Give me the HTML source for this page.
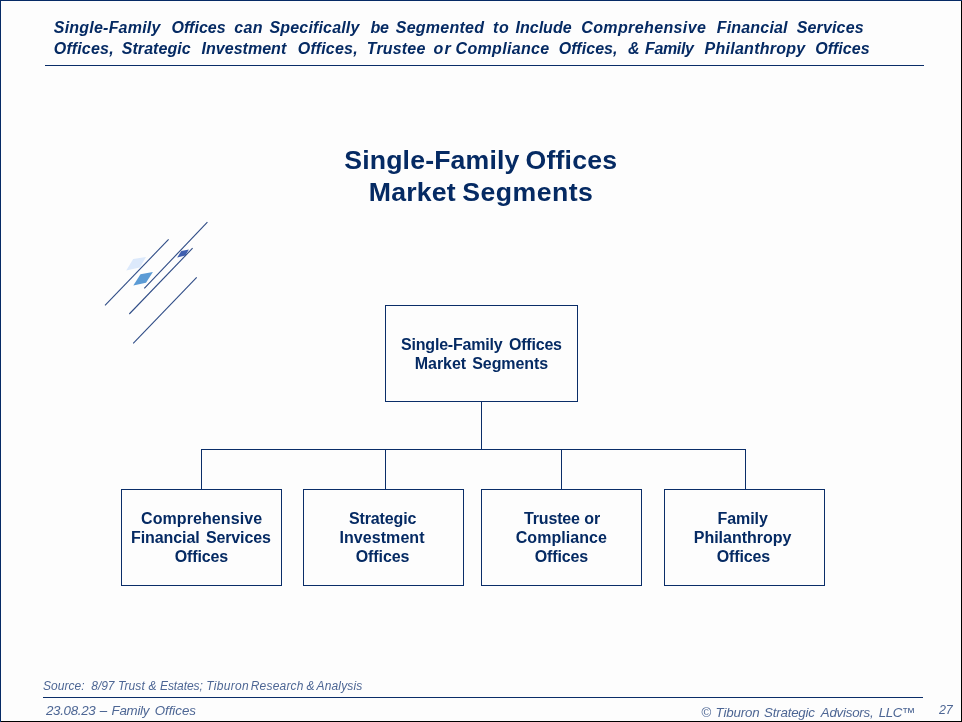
<!DOCTYPE html>
<html lang="en">
<head>
<meta charset="utf-8">
<title>Single-Family Offices Market Segments</title>
<style>
html,body{margin:0;padding:0;}
body{width:962px;height:722px;overflow:hidden;background:#fdfdfd;font-family:"Liberation Sans",Arial,Helvetica,sans-serif;color:#052a63;position:relative;}
#page{position:absolute;left:0;top:0;width:962px;height:722px;will-change:transform;}
#frame{position:absolute;left:0;top:0;width:962px;height:722px;box-sizing:border-box;border-left:1px solid #062a66;border-top:1px solid #062a66;border-right:1px solid #000;border-bottom:1px solid #000;}
.ln{position:absolute;left:0;width:962px;white-space:nowrap;margin:0;}
.ln span{position:absolute;top:0;}
.hd{height:20px;font-weight:bold;font-style:italic;font-size:16px;line-height:20px;}
.tt{height:32px;font-weight:bold;font-size:26.67px;line-height:32px;}
.bx{height:19px;font-weight:bold;font-size:16px;line-height:19px;}
.sr{height:14px;font-style:italic;font-size:12px;line-height:14px;color:#4d6694;}
.fl{height:16px;font-style:italic;font-size:13.33px;line-height:16px;color:#4d6694;}
.pn{height:14px;font-style:italic;font-size:12.5px;line-height:14px;color:#4d6694;}
.fr{height:16px;font-style:italic;font-size:13.33px;line-height:16px;color:#4d6694;}
.hr{position:absolute;background:#0a2d68;height:1px;}
.box{position:absolute;box-sizing:border-box;border:1px solid #0a2d68;}
.cn{position:absolute;background:#0a2d68;}
.px{position:absolute;width:1px;height:1px;background:#0c3a7a;}
#logo{position:absolute;left:95px;top:215px;}
</style>
</head>
<body>
<div id="page">
<div id="frame"></div>
<div class="px" style="left:961px;top:0;"></div>
<div class="px" style="left:0;top:721px;"></div>

<div class="ln hd" style="top:18px;"><span style="left:53.75px;letter-spacing:0.22px;">Single-Family</span> <span style="left:171.5px;letter-spacing:0.03px;">Offices</span> <span style="left:234.25px;letter-spacing:0.35px;">can</span> <span style="left:269.5px;letter-spacing:0.16px;">Specifically</span> <span style="left:370.5px;letter-spacing:-0.2px;">be</span> <span style="left:395.75px;letter-spacing:0.24px;">Segmented</span> <span style="left:493px;letter-spacing:0.55px;">to</span> <span style="left:515.5px;letter-spacing:0.01px;">Include</span> <span style="left:581.25px;letter-spacing:0.38px;">Comprehensive</span> <span style="left:716.75px;letter-spacing:0.18px;">Financial</span> <span style="left:796.75px;letter-spacing:0.14px;">Services</span></div>
<div class="ln hd" style="top:39px;"><span style="left:53.75px;letter-spacing:0.21px;">Offices,</span> <span style="left:121.75px;letter-spacing:0.06px;">Strategic</span> <span style="left:201.5px;letter-spacing:0.03px;">Investment</span> <span style="left:297.75px;letter-spacing:0.21px;">Offices,</span> <span style="left:366.75px;letter-spacing:0.18px;">Trustee</span> <span style="left:433.5px;letter-spacing:1.15px;">or</span> <span style="left:455.5px;letter-spacing:0.34px;">Compliance</span> <span style="left:558.75px;letter-spacing:0.05px;">Offices,</span> <span style="left:628px;">&amp;</span> <span style="left:645px;letter-spacing:-0.36px;">Family</span> <span style="left:704.5px;letter-spacing:0.27px;">Philanthropy</span> <span style="left:815.25px;letter-spacing:0.08px;">Offices</span></div>
<div class="hr" style="left:45px;top:65px;width:879px;"></div>

<div class="ln tt" style="top:144.25px;"><span style="left:344.25px;letter-spacing:0.15px;">Single-Family</span> <span style="left:525.5px;letter-spacing:0.19px;">Offices</span></div>
<div class="ln tt" style="top:176px;"><span style="left:368.75px;letter-spacing:0.19px;">Market</span> <span style="left:462.25px;letter-spacing:0.47px;">Segments</span></div>

<svg id="logo" width="120" height="135" viewBox="95 215 120 135">
<polygon points="126.2,270.5 133.2,259.0 146.0,257.1 139.9,267.5" fill="#dce9fb"/>
<polygon points="133.3,285.4 140.5,274.3 152.9,272.1 146.0,282.7" fill="#5b9bd5"/>
<polygon points="177.1,257.5 181.3,251.1 188.9,249.4 185.4,255.5" fill="#3f5fb0"/>
<g stroke="#2f4c86" stroke-width="1.1" fill="none">
<line x1="105.0" y1="305.3" x2="168.6" y2="239.4"/>
<line x1="144.3" y1="288.3" x2="207.4" y2="222.2"/>
<line x1="129.3" y1="314.0" x2="192.6" y2="248.2"/>
<line x1="133.2" y1="343.4" x2="196.7" y2="277.4"/>
</g>
</svg>

<div class="box" style="left:385px;top:305px;width:193px;height:97px;"></div>
<div class="ln bx" style="top:335px;"><span style="left:401px;letter-spacing:-0.19px;">Single-Family</span> <span style="left:509px;letter-spacing:-0.21px;">Offices</span></div>
<div class="ln bx" style="top:354px;"><span style="left:414.75px;letter-spacing:-0.04px;">Market</span> <span style="left:472.25px;letter-spacing:-0.09px;">Segments</span></div>
<div class="cn" style="left:481px;top:401px;width:1px;height:48px;"></div>
<div class="cn" style="left:201px;top:449px;width:545px;height:1px;"></div>
<div class="cn" style="left:201px;top:449px;width:1px;height:40px;"></div>
<div class="cn" style="left:385px;top:449px;width:1px;height:40px;"></div>
<div class="cn" style="left:561px;top:449px;width:1px;height:40px;"></div>
<div class="cn" style="left:745px;top:449px;width:1px;height:40px;"></div>

<div class="box" style="left:121px;top:489px;width:161px;height:97px;"></div>
<div class="ln bx" style="top:509px;"><span style="left:141px;letter-spacing:0.09px;">Comprehensive</span></div>
<div class="ln bx" style="top:528px;"><span style="left:131px;letter-spacing:-0.09px;">Financial</span> <span style="left:206px;letter-spacing:-0.15px;">Services</span></div>
<div class="ln bx" style="top:547px;"><span style="left:174.75px;letter-spacing:-0.14px;">Offices</span></div>
<div class="box" style="left:303px;top:489px;width:161px;height:97px;"></div>
<div class="ln bx" style="top:509px;"><span style="left:349px;letter-spacing:-0.14px;">Strategic</span></div>
<div class="ln bx" style="top:528px;"><span style="left:339.5px;letter-spacing:0.06px;">Investment</span></div>
<div class="ln bx" style="top:547px;"><span style="left:355.75px;letter-spacing:-0.09px;">Offices</span></div>
<div class="box" style="left:481px;top:489px;width:161px;height:97px;"></div>
<div class="ln bx" style="top:509px;"><span style="left:524px;letter-spacing:-0.15px;">Trustee</span> <span style="left:584.25px;letter-spacing:0.1px;">or</span></div>
<div class="ln bx" style="top:528px;"><span style="left:515.75px;letter-spacing:0.06px;">Compliance</span></div>
<div class="ln bx" style="top:547px;"><span style="left:534.75px;letter-spacing:-0.12px;">Offices</span></div>
<div class="box" style="left:664px;top:489px;width:161px;height:97px;"></div>
<div class="ln bx" style="top:509px;"><span style="left:717.5px;letter-spacing:-0.08px;">Family</span></div>
<div class="ln bx" style="top:528px;"><span style="left:693.75px;letter-spacing:-0.01px;">Philanthropy</span></div>
<div class="ln bx" style="top:547px;"><span style="left:716.75px;letter-spacing:-0.12px;">Offices</span></div>

<div class="ln sr" style="top:679px;"><span style="left:43px;letter-spacing:0.04px;">Source:</span> <span style="left:91.25px;letter-spacing:-0.03px;">8/97</span> <span style="left:118px;letter-spacing:0.07px;">Trust</span> <span style="left:148.5px;">&amp;</span> <span style="left:160px;letter-spacing:-0.09px;">Estates;</span> <span style="left:206.25px;letter-spacing:0.32px;">Tiburon</span> <span style="left:250.75px;letter-spacing:0.19px;">Research</span> <span style="left:306.5px;">&amp;</span> <span style="left:316.5px;letter-spacing:0.16px;">Analysis</span></div>
<div class="hr" style="left:43px;top:697px;width:880px;"></div>
<div class="ln fl" style="top:703px;"><span style="left:46px;letter-spacing:-0.31px;">23.08.23</span> <span style="left:99.75px;">–</span> <span style="left:111.5px;letter-spacing:-0.25px;">Family</span> <span style="left:154.75px;letter-spacing:-0.05px;">Offices</span></div>
<div class="ln fr" style="top:705px;"><span style="left:701.25px;">©</span> <span style="left:715.5px;letter-spacing:-0.14px;">Tiburon</span> <span style="left:764px;letter-spacing:-0.2px;">Strategic</span> <span style="left:820.75px;letter-spacing:-0.23px;">Advisors,</span> <span style="left:878.75px;letter-spacing:-0.38px;">LLC™</span></div>
<div class="ln pn" style="top:703px;"><span style="left:939px;letter-spacing:-0.25px;">27</span></div>
</div>
</body>
</html>
